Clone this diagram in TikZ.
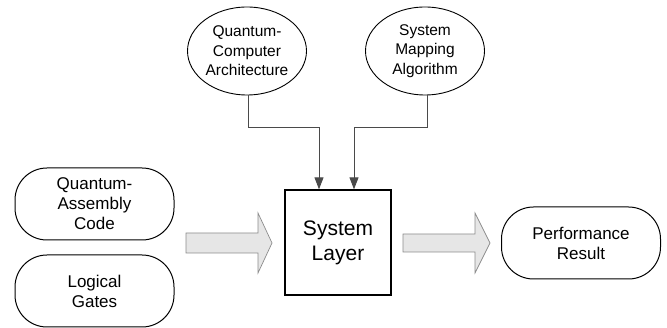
\documentclass[tikz,border=0pt]{standalone}
\usepackage{fontspec}
\setmainfont{Liberation Sans}
\usetikzlibrary{arrows.meta,shapes.geometric}
\definecolor{arrfill}{HTML}{E6E6E6}
\definecolor{arrline}{HTML}{8C8C8C}
\definecolor{conn}{HTML}{4A4A4A}
\begin{document}
\begin{tikzpicture}[x=1pt,y=-1pt,
  oval/.style={ellipse,draw,line width=0.9pt,minimum width=119pt,minimum height=88pt,inner sep=0pt,align=center,font=\fontsize{15.5}{19.5}\selectfont},
  stadium/.style={rectangle,rounded corners=32pt,draw,line width=1pt,minimum width=159pt,minimum height=72pt,inner sep=0pt,align=center,font=\fontsize{17}{20}\selectfont},
  sysbox/.style={rectangle,draw,line width=1.3pt,minimum width=106pt,minimum height=105pt,inner sep=0pt,align=center,font=\fontsize{21}{25}\selectfont},
  conline/.style={draw=conn,line width=0.9pt,-{Triangle[length=12pt,width=9pt]}},
  bigarrow/.style={draw=arrline,fill=arrfill,line width=0.7pt}]
\useasboundingbox (0,0) rectangle (667,328);
\node[oval] (qca) at (247,51) {Quantum-\\Computer\\Architecture};
\node[oval] (sma) at (425,51) {System\\Mapping\\Algorithm};
\node[sysbox] (sys) at (338,242.5) {System\\Layer};
\node[stadium] (qac) at (94.5,204) {Quantum-\\Assembly\\Code};
\node[stadium] (lg) at (94.5,291) {Logical\\Gates};
\node[stadium] (pr) at (581,243) {Performance\\Result};
\coordinate (c1) at (248,127);
\coordinate (c2) at (427,127);
\draw[conline] (qca.south -| c1) -- (c1) -| ([xshift=-19pt]sys.north);
\draw[conline] (sma.south -| c2) -- (c2) -| ([xshift=16pt]sys.north);
\draw[bigarrow] (186,233) -- (258,233) -- (258,213) -- (272,243) -- (258,273) -- (258,253) -- (186,253) -- cycle;
\draw[bigarrow] (403,234) -- (475,234) -- (475,213) -- (490,243) -- (475,273) -- (475,252) -- (403,252) -- cycle;
\end{tikzpicture}
\end{document}
